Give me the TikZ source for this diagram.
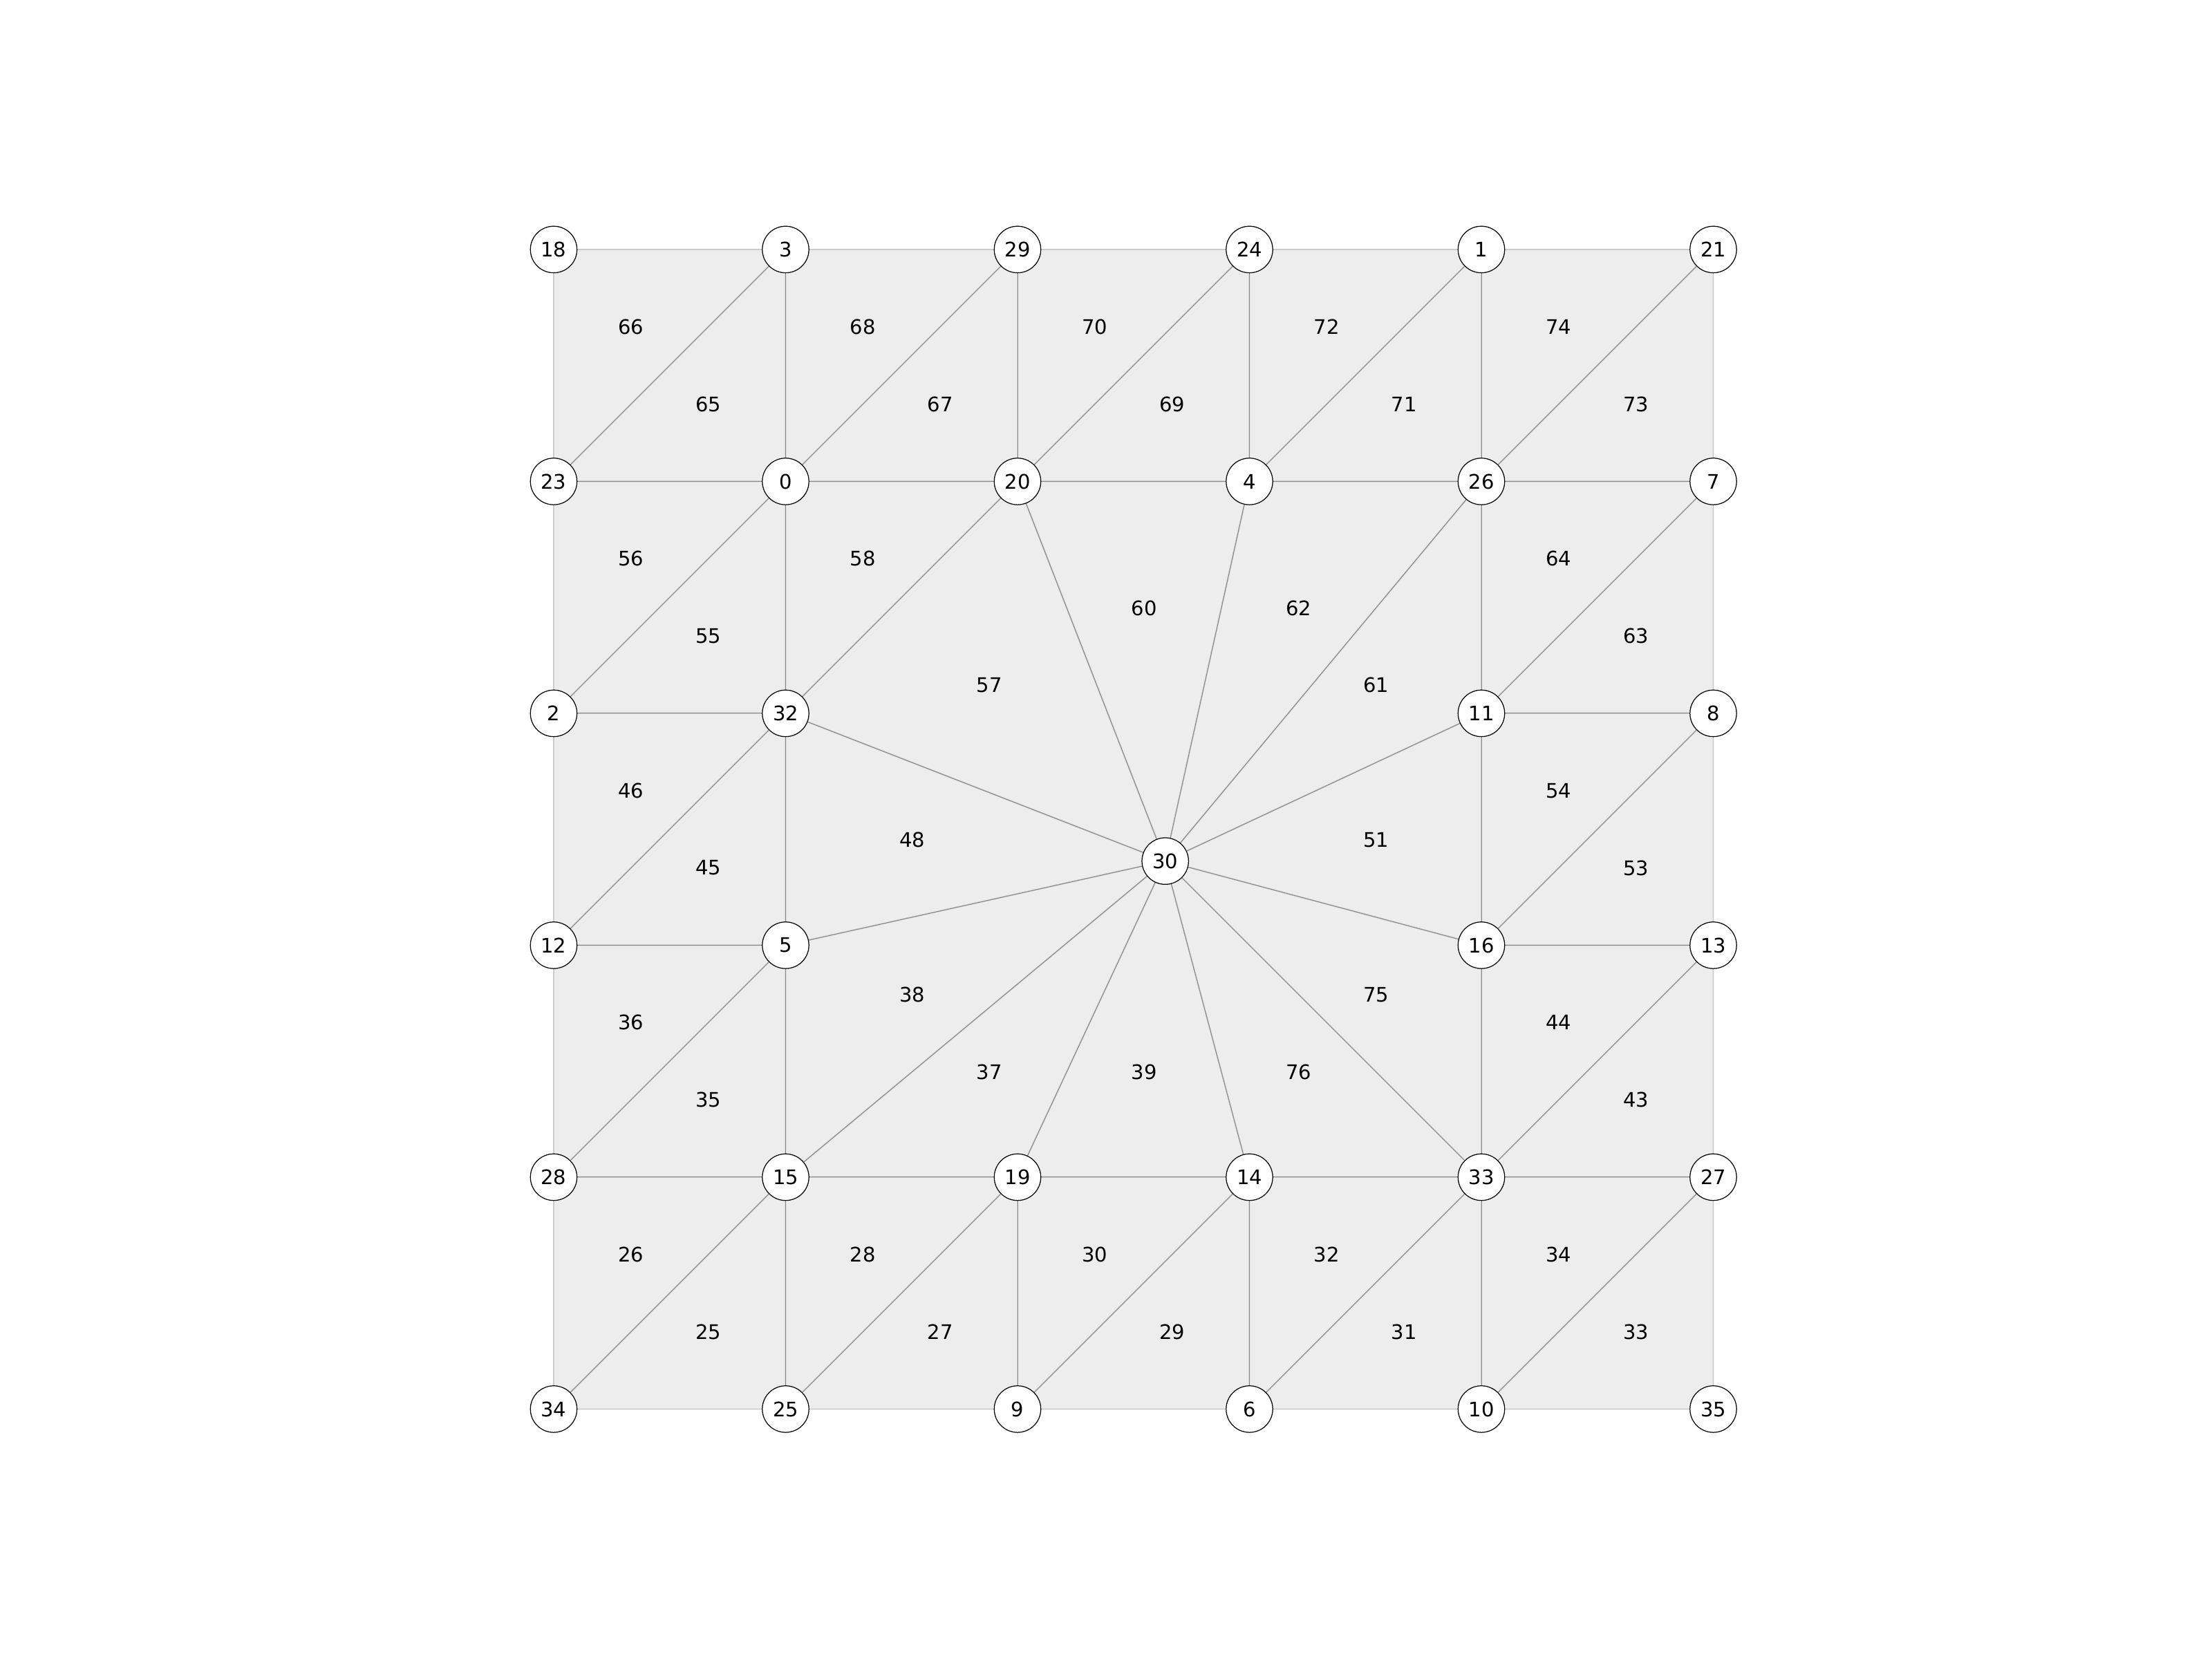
\documentclass[tikz,border=0pt]{standalone}
\usepackage{fontspec}
\setmainfont{DejaVu Sans}
\usetikzlibrary{calc}
\pgfdeclarelayer{background}
\pgfdeclarelayer{edges}
\pgfsetlayers{background,edges,main}
\definecolor{trifill}{HTML}{EDEDED}
\definecolor{tririm}{HTML}{CCCCCC}
\definecolor{edgegray}{HTML}{8A8A8A}
\tikzset{
  vtx/.style={circle,draw=black,fill=white,line width=0.35pt,minimum size=0.674cm,inner sep=0pt,font=\fontsize{8.25}{10}\selectfont},
  lab/.style={inner sep=0pt,font=\fontsize{8.25}{10}\selectfont},
  rim/.style={draw=tririm,line width=0.55pt,fill=trifill,line join=round},
  edge/.style={draw=edgegray,line width=0.28pt}
}
\begin{document}
\begin{tikzpicture}
\useasboundingbox (0,0) rectangle (32,24);
\begin{scope}[shift={(8.01,20.39)},x=3.355cm,y=-3.355cm]
% nodes
\node[vtx] (n18) at (0,0) {18};
\node[vtx] (n3)  at (1,0) {3};
\node[vtx] (n29) at (2,0) {29};
\node[vtx] (n24) at (3,0) {24};
\node[vtx] (n1)  at (4,0) {1};
\node[vtx] (n21) at (5,0) {21};
\node[vtx] (n23) at (0,1) {23};
\node[vtx] (n0)  at (1,1) {0};
\node[vtx] (n20) at (2,1) {20};
\node[vtx] (n4)  at (3,1) {4};
\node[vtx] (n26) at (4,1) {26};
\node[vtx] (n7)  at (5,1) {7};
\node[vtx] (n2)  at (0,2) {2};
\node[vtx] (n32) at (1,2) {32};
\node[vtx] (n11) at (4,2) {11};
\node[vtx] (n8)  at (5,2) {8};
\node[vtx] (n12) at (0,3) {12};
\node[vtx] (n5)  at (1,3) {5};
\node[vtx] (n16) at (4,3) {16};
\node[vtx] (n13) at (5,3) {13};
\node[vtx] (n28) at (0,4) {28};
\node[vtx] (n15) at (1,4) {15};
\node[vtx] (n19) at (2,4) {19};
\node[vtx] (n14) at (3,4) {14};
\node[vtx] (n33) at (4,4) {33};
\node[vtx] (n27) at (5,4) {27};
\node[vtx] (n34) at (0,5) {34};
\node[vtx] (n25) at (1,5) {25};
\node[vtx] (n9)  at (2,5) {9};
\node[vtx] (n6)  at (3,5) {6};
\node[vtx] (n10) at (4,5) {10};
\node[vtx] (n35) at (5,5) {35};
\node[vtx] (n30) at (2.637,2.637) {30};
% triangles with labels
\begin{pgfonlayer}{background}
\foreach \a/\b/\c/\t in {
  18/3/23/66, 3/0/23/65, 3/29/0/68, 29/20/0/67, 29/24/20/70, 24/4/20/69,
  24/1/4/72, 1/26/4/71, 1/21/26/74, 21/7/26/73,
  23/0/2/56, 0/32/2/55, 0/20/32/58, 32/20/30/57, 20/4/30/60, 4/26/30/62,
  26/11/30/61, 26/7/11/64, 7/8/11/63,
  2/32/12/46, 32/5/12/45, 5/32/30/48, 11/16/30/51, 11/8/16/54, 8/13/16/53,
  12/5/28/36, 5/15/28/35, 15/5/30/38, 16/33/30/75, 16/13/33/44, 13/27/33/43,
  19/15/30/37, 14/19/30/39, 33/14/30/76,
  28/15/34/26, 15/25/34/25, 15/19/25/28, 19/9/25/27, 19/14/9/30, 14/6/9/29,
  14/33/6/32, 33/10/6/31, 33/27/10/34, 27/35/10/33}
{
  \path[rim] (n\a.center) -- (n\b.center) -- (n\c.center) -- cycle;
  \node[lab] (t\t) at (barycentric cs:n\a=1,n\b=1,n\c=1) {\t};
}
\end{pgfonlayer}
% interior edges
\begin{pgfonlayer}{edges}
\foreach \a/\b in {
  23/0, 0/20, 20/4, 4/26, 26/7,
  3/0, 29/20, 24/4, 1/26,
  23/3, 0/29, 20/24, 4/1, 26/21,
  0/2, 0/32, 20/32, 26/11, 11/7, 2/32, 11/8,
  30/20, 30/4, 30/26, 30/11, 30/16, 30/33, 30/14, 30/19, 30/15, 30/5, 30/32,
  32/12, 32/5, 11/16, 16/8, 12/5, 16/13,
  5/28, 5/15, 16/33, 33/13,
  28/15, 15/19, 19/14, 14/33, 33/27,
  15/34, 15/25, 19/25, 19/9, 14/9, 14/6, 33/6, 33/10, 27/10}
{
  \draw[edge] (n\a) -- (n\b);
}
\end{pgfonlayer}
\end{scope}
\end{tikzpicture}
\end{document}
